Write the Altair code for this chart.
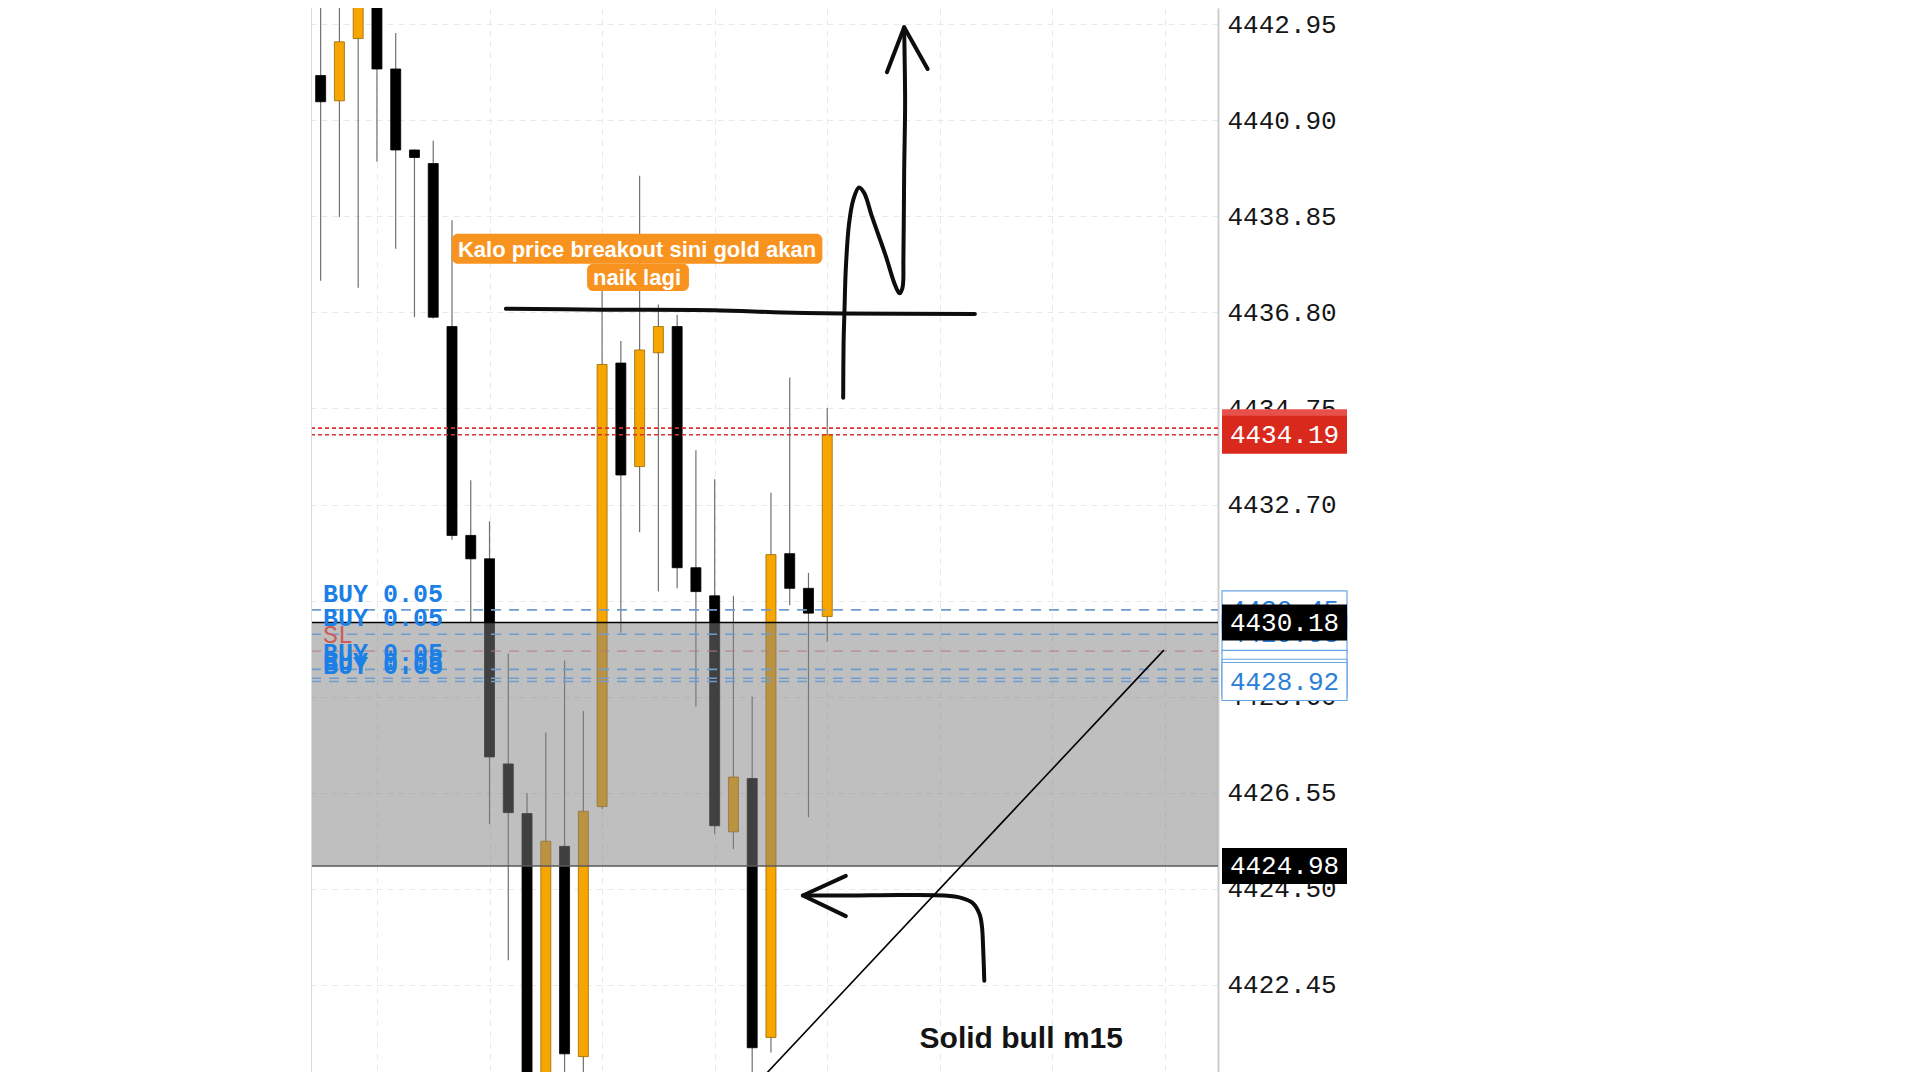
import altair as alt
import pandas as pd

# ---------------- data ----------------
candle_index = list(range(28))
open_ = [4441.86, 4441.32, 4442.65, 4443.90, 4442.00, 4440.27, 4439.98, 4436.50,
         4432.04, 4431.54, 4427.16, 4426.10, 4419.90, 4425.40, 4420.91, 4426.25,
         4435.72, 4433.51, 4435.94, 4436.50, 4431.35, 4430.75, 4425.71, 4426.85,
         4421.32, 4431.65, 4430.91, 4430.31]
high = [4444.50, 4444.20, 4444.50, 4444.50, 4442.77, 4440.28, 4440.47, 4438.77,
        4433.22, 4432.34, 4429.52, 4426.54, 4427.83, 4429.37, 4428.29, 4437.30,
        4436.19, 4439.72, 4436.97, 4436.75, 4433.86, 4433.24, 4430.75, 4428.60,
        4432.95, 4435.41, 4431.24, 4434.76]
low = [4437.48, 4438.84, 4437.33, 4440.02, 4438.16, 4436.70, 4436.67, 4431.95,
       4430.18, 4425.88, 4422.97, 4419.50, 4419.50, 4420.30, 4420.40, 4426.20,
       4429.96, 4432.11, 4430.84, 4430.91, 4428.38, 4425.66, 4425.34, 4420.50,
       4421.00, 4430.55, 4426.02, 4429.77]
close = [4441.30, 4442.58, 4443.90, 4442.00, 4440.27, 4440.11, 4436.70, 4432.04,
         4431.54, 4427.31, 4426.12, 4419.80, 4425.51, 4420.97, 4426.15, 4435.69,
         4433.33, 4436.00, 4436.50, 4431.35, 4430.84, 4425.84, 4426.88, 4421.10,
         4431.63, 4430.91, 4430.38, 4434.19]

y_ticks = [4442.95, 4440.90, 4438.85, 4436.80, 4434.75, 4432.70, 4430.65,
           4428.60, 4426.55, 4424.50, 4422.45]
x_grid = [3, 9, 15, 21, 27, 33, 39, 45]

zone_top = [4430.18]
zone_bottom = [4424.98]

buy_levels = [4430.45, 4429.93, 4429.18, 4428.99, 4428.92]
buy_labels = ["BUY 0.05", "BUY 0.05", "BUY 0.05", "BUY 0.05", "BUY 0.05"]
sl_levels = [4429.57]
sl_labels = ["SL"]
red_levels = [4434.33, 4434.19]          # ask / bid
ask_level = [4434.33]
bid_level = [4434.19]
black_tags = [4430.18, 4424.98]

note_text = ["Kalo price breakout sini gold akan", "naik lagi"]
note_i = [16.86, 16.86]
note_p = [4438.13, 4437.53]
note_box_i1 = [6.99, 14.20]
note_box_i2 = [26.74, 19.63]
note_box_p1 = [4438.48, 4437.84]
note_box_p2 = [4437.84, 4437.26]

bull_text = ["Solid bull m15"]
bull_i = [37.34]
bull_p = [4421.29]

# hand drawn strokes (index units, price)
hand_path = ["A"] * 6 + ["B"] * 18 + ["D"] * 10
hand_i = [9.87, 14.99, 20.94, 24.63, 27.80, 34.87,
          27.85, 27.87, 27.92, 27.99, 28.16, 28.39, 28.69, 28.96, 29.39, 30.10,
          30.63, 30.85, 31.01, 31.06, 31.10, 31.15, 31.12, 31.10,
          35.37, 35.32, 35.24, 35.11, 34.75, 34.14, 33.26, 30.80, 28.17, 25.70]
hand_p = [4436.88, 4436.86, 4436.85, 4436.80, 4436.78, 4436.77,
          4434.98, 4436.12, 4436.86, 4437.74, 4438.69, 4439.21, 4439.47, 4439.36,
          4438.84, 4438.03, 4437.37, 4437.21, 4437.33, 4437.96, 4439.80, 4441.27,
          4442.37, 4442.89,
          4422.53, 4423.12, 4423.71, 4423.96, 4424.19, 4424.30, 4424.35, 4424.36,
          4424.35, 4424.35]
head_path = ["C"] * 3 + ["E"] * 3
head_i = [30.18, 31.10, 32.35, 27.99, 25.70, 27.99]
head_p = [4441.93, 4442.89, 4442.00, 4424.77, 4424.35, 4423.91]

diag_i = [22.42, 44.94]
diag_p = [4419.98, 4429.59]

# ---------------- tables ----------------
cdf = pd.DataFrame({"i": candle_index, "open": open_, "high": high,
                    "low": low, "close": close})
zone_df = pd.DataFrame({"top": zone_top, "bottom": zone_bottom})
buy_df = pd.DataFrame({"p": buy_levels, "label": buy_labels})
buy_df["k"] = range(len(buy_df))
sl_df = pd.DataFrame({"p": sl_levels, "label": sl_labels})
red_df = pd.DataFrame({"p": red_levels})
ask_df = pd.DataFrame({"p": ask_level})
bid_df = pd.DataFrame({"p": bid_level})
black_df = pd.DataFrame({"p": black_tags})
note_df = pd.DataFrame({"t": note_text, "i": note_i, "p": note_p})
note_box_df = pd.DataFrame({"i1": note_box_i1, "i2": note_box_i2,
                            "p1": note_box_p1, "p2": note_box_p2})
bull_df = pd.DataFrame({"t": bull_text, "i": bull_i, "p": bull_p})
hand_df = pd.DataFrame({"path": hand_path, "i": hand_i, "p": hand_p})
hand_df["seq"] = range(len(hand_df))
head_df = pd.DataFrame({"path": head_path, "i": head_i, "p": head_p})
head_df["seq"] = range(len(head_df))
diag_df = pd.DataFrame({"i": diag_i, "p": diag_p})

# ---------------- scales / axes ----------------
MONO = "Liberation Mono"
GRID = "#e9e9e9"

XS = alt.Scale(domain=[-0.248, 47.56], nice=False, zero=False)
YS = alt.Scale(domain=[4420.582, 4443.302], nice=False, zero=False)

x_axis = alt.Axis(values=x_grid, labels=False, ticks=False, domain=False,
                  grid=True, gridColor=GRID, gridDash=[6, 5], gridWidth=1,
                  title=None)
y_axis = alt.Axis(orient="right", values=y_ticks, format=".2f",
                  labelFont=MONO, labelFontSize=26, labelColor="#161616",
                  labelPadding=9, ticks=False, tickSize=0, domain=True,
                  domainColor="#cdcdcd", domainWidth=2, grid=True,
                  gridColor=GRID, gridDash=[6, 5], gridWidth=1, title=None,
                  labelOverlap=False, labelFlush=False)


def X(f):
    return alt.X(f, type="quantitative", scale=XS, axis=x_axis, title=None)


def Y(f):
    return alt.Y(f, type="quantitative", scale=YS, axis=y_axis, title=None)


# ---------------- layers ----------------
wicks = alt.Chart(cdf).mark_rule(color="#707070", strokeWidth=1.2, clip=True).encode(
    x=X("i"), y=Y("low"), y2="high")

bodies = alt.Chart(cdf).transform_calculate(
    dir="datum.close >= datum.open ? 'up' : 'down'"
).mark_bar(size=10, clip=True, strokeWidth=0.8).encode(
    x=X("i"), y=Y("open"), y2="close",
    fill=alt.Fill("dir:N", scale=alt.Scale(domain=["up", "down"],
                                           range=["#F7A600", "#000000"]), legend=None),
    stroke=alt.Stroke("dir:N", scale=alt.Scale(domain=["up", "down"],
                                               range=["#9a6800", "#000000"]), legend=None),
)

zone = alt.Chart(zone_df).mark_rect(color="#808080", opacity=0.5).encode(
    x=alt.value(0), x2=alt.value("width"), y=Y("top"), y2="bottom")
zone_top_line = alt.Chart(zone_df).mark_rule(color="#000000", strokeWidth=1.6).encode(
    x=alt.value(0), x2=alt.value("width"), y=Y("top"))
zone_bot_line = alt.Chart(zone_df).mark_rule(color="#5a5a5a", strokeWidth=1.6).encode(
    x=alt.value(0), x2=alt.value("width"), y=Y("bottom"))

buy_lines = alt.Chart(buy_df).mark_rule(color="#6f9ccf", strokeWidth=1.6,
                                        strokeDash=[10, 8]).encode(
    x=alt.value(0), x2=alt.value("width"), y=Y("p"))
sl_lines = alt.Chart(sl_df).mark_rule(color="#b27a7a", strokeWidth=1,
                                      strokeDash=[10, 8]).encode(
    x=alt.value(0), x2=alt.value("width"), y=Y("p"))
red_lines = alt.Chart(red_df).mark_rule(color="#d83232", strokeWidth=1.6,
                                        strokeDash=[4, 3]).encode(
    x=alt.value(0), x2=alt.value("width"), y=Y("p"))

left_border = alt.Chart(zone_df).mark_rule(color="#dcdcdc", strokeWidth=1).encode(
    x=alt.value(0.5), y=alt.value(0), y2=alt.value("height"))

buy_text = alt.Chart(buy_df).mark_text(align="left", baseline="bottom", dy=-3,
                                       font=MONO, fontSize=25, fontWeight="bold",
                                       color="#1b7fe6").encode(
    x=alt.value(12), y=Y("p"), text="label:N")
sl_text = alt.Chart(sl_df).mark_text(align="left", baseline="bottom", dy=-3,
                                     font=MONO, fontSize=25,
                                     color="#cf5a5a").encode(
    x=alt.value(12), y=Y("p"), text="label:N")

note_boxes = alt.Chart(note_box_df).mark_rect(color="#F7931E", cornerRadius=6).encode(
    x=X("i1"), x2="i2", y=Y("p1"), y2="p2")
note_txt = alt.Chart(note_df).mark_text(font="Liberation Sans", fontWeight="bold",
                                        fontSize=22, color="#ffffff",
                                        align="center", baseline="middle").encode(
    x=X("i"), y=Y("p"), text="t:N")

hand = alt.Chart(hand_df).mark_line(color="#0d0d0d", strokeWidth=4,
                                    strokeCap="round", strokeJoin="round",
                                    interpolate="catmull-rom", clip=True).encode(
    x=X("i"), y=Y("p"), detail="path:N", order="seq:Q")
heads = alt.Chart(head_df).mark_line(color="#0d0d0d", strokeWidth=4,
                                     strokeCap="round", strokeJoin="round").encode(
    x=X("i"), y=Y("p"), detail="path:N", order="seq:Q")
diag = alt.Chart(diag_df).mark_line(color="#000000", strokeWidth=1.6, clip=True).encode(
    x=X("i"), y=Y("p"))

bull = alt.Chart(bull_df).mark_text(font="Liberation Sans", fontWeight="bold",
                                    fontSize=30, color="#141414",
                                    align="center", baseline="middle").encode(
    x=X("i"), y=Y("p"), text="t:N")

TAG_X1, TAG_X2, TAG_XC = 911, 1036, 973.5

# blue order tags: each box drawn with its own text so later tags cover earlier ones
blue_tags = []
for k in range(len(buy_levels)):
    base = alt.Chart(buy_df).transform_filter(alt.datum.k == k)
    blue_tags.append(base.mark_rect(fill="#ffffff", stroke="#6aa6e6",
                                    strokeWidth=1.2, yOffset=-19, y2Offset=19).encode(
        x=alt.value(TAG_X1), x2=alt.value(TAG_X2), y=Y("p"), y2="p"))
    blue_tags.append(base.mark_text(font=MONO, fontSize=26, color="#2a80d8",
                                    align="center", baseline="middle").encode(
        x=alt.value(TAG_XC), y=Y("p"), text=alt.Text("p:Q", format=".2f")))

ask_box = alt.Chart(ask_df).mark_rect(fill="#e9504c", yOffset=-19, y2Offset=19).encode(
    x=alt.value(TAG_X1), x2=alt.value(TAG_X2), y=Y("p"), y2="p")
bid_box = alt.Chart(bid_df).mark_rect(fill="#d8291c", yOffset=-19, y2Offset=19).encode(
    x=alt.value(TAG_X1), x2=alt.value(TAG_X2), y=Y("p"), y2="p")
bid_txt = alt.Chart(bid_df).mark_text(font=MONO, fontSize=26, color="#ffffff",
                                      align="center", baseline="middle").encode(
    x=alt.value(TAG_XC), y=Y("p"), text=alt.Text("p:Q", format=".2f"))
black_box = alt.Chart(black_df).mark_rect(fill="#000000", yOffset=-18, y2Offset=18).encode(
    x=alt.value(TAG_X1), x2=alt.value(TAG_X2), y=Y("p"), y2="p")
black_txt = alt.Chart(black_df).mark_text(font=MONO, fontSize=26, color="#ffffff",
                                          align="center", baseline="middle").encode(
    x=alt.value(TAG_XC), y=Y("p"), text=alt.Text("p:Q", format=".2f"))

chart = alt.layer(
    wicks, bodies, zone, zone_top_line, zone_bot_line, buy_lines, sl_lines,
    red_lines, left_border, sl_text, buy_text, note_boxes, note_txt, hand, heads,
    diag, bull, *blue_tags, ask_box, bid_box, bid_txt, black_box, black_txt,
).properties(
    width=907, height=1064,
    autosize=alt.AutoSizeParams(type="none"),
    padding={"left": 303, "top": 0, "right": 250, "bottom": 0},
    background="#ffffff",
).configure_view(stroke=None)

chart.save("out.html", embed_options={"renderer": "svg", "actions": False})
